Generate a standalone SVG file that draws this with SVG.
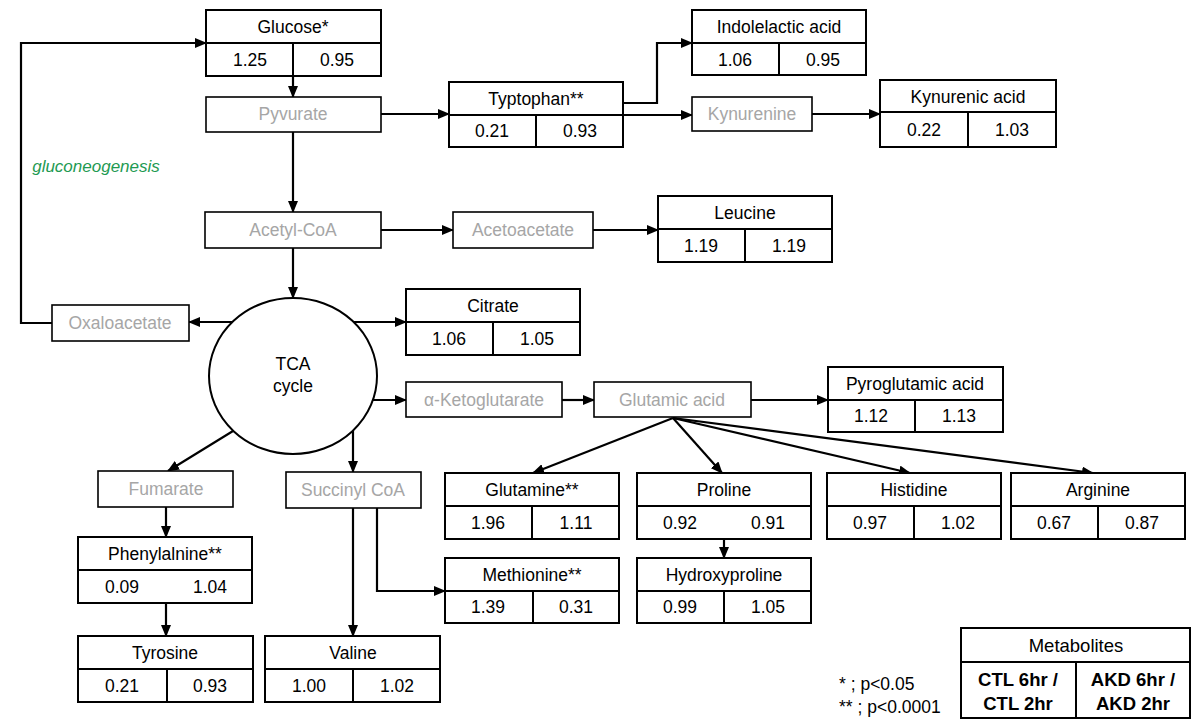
<svg xmlns="http://www.w3.org/2000/svg" width="1202" height="720" viewBox="0 0 1202 720">
<style>
text{font-family:"Liberation Sans",Arial,sans-serif;font-size:17.5px;fill:#000;text-anchor:middle}
.g text{fill:#a6a6a6}
.box{fill:#fff;stroke:#000;stroke-width:2}
.gbox{fill:#fff;stroke:#000;stroke-width:1.6}
.div{stroke:#000;stroke-width:2}
.c{fill:none;stroke:#000;stroke-width:2.2}
.note{text-anchor:start;font-size:17.5px}
.b{font-weight:bold;font-size:18.5px}
</style>
<defs>
<marker id="ah" markerUnits="userSpaceOnUse" markerWidth="12" markerHeight="10" refX="11" refY="5" orient="auto">
<path d="M0,0 L12,5 L0,10 z" fill="#000"/>
</marker>
</defs>
<rect width="1202" height="720" fill="#fff"/>

<g id="connectors" class="c" marker-end="url(#ah)">
<path d="M52,323 H21 V43 H206"/>
<path d="M293,43 V97"/>
<path d="M381,114 H449"/>
<path d="M623,103 H657 V43 H692"/>
<path d="M623,115 H692"/>
<path d="M812,114 H880"/>
<path d="M293,132 V212"/>
<path d="M381,230 H453"/>
<path d="M593,230 H658"/>
<path d="M293,248 V298"/>
<path d="M233,322 H189"/>
<path d="M354,322 H406"/>
<path d="M373,400 H406"/>
<path d="M562,400 H594"/>
<path d="M751,400 H828"/>
<path d="M673,418 L533,473"/>
<path d="M673,418 L722,473"/>
<path d="M673,418 L910,473"/>
<path d="M673,418 L1093,473"/>
<path d="M233,431 L168,471"/>
<path d="M353,431 V472"/>
<path d="M166,507 V537"/>
<path d="M166,570 V636"/>
<path d="M353,508 V636"/>
<path d="M377,508 V591 H445"/>
<path d="M724,506 V558"/>
</g>

<text x="96" y="172" style="font-style:italic;fill:#1e9a52;font-size:17px">gluconeogenesis</text>

<g id="glucose"><rect class="box" x="206" y="10" width="175" height="66"/><line class="div" x1="206" y1="43" x2="381" y2="43"/><line class="div" x1="293" y1="43" x2="293" y2="76"/><text x="293" y="33">Glucose*</text><text x="250" y="66">1.25</text><text x="337" y="66">0.95</text></g>

<g id="pyvurate" class="g"><rect class="gbox" x="206" y="97" width="175" height="35"/><text x="293" y="120">Pyvurate</text></g>

<g id="tryptophan"><rect class="box" x="449" y="82" width="174" height="65"/><line class="div" x1="449" y1="115" x2="623" y2="115"/><line class="div" x1="536" y1="115" x2="536" y2="147"/><text x="536" y="105">Typtophan**</text><text x="492" y="137">0.21</text><text x="580" y="137">0.93</text></g>

<g id="indolelactic"><rect class="box" x="692" y="10" width="174" height="65"/><line class="div" x1="692" y1="43" x2="866" y2="43"/><line class="div" x1="779" y1="43" x2="779" y2="75"/><text x="779" y="33">Indolelactic acid</text><text x="735" y="66">1.06</text><text x="823" y="66">0.95</text></g>

<g id="kynurenine" class="g"><rect class="gbox" x="692" y="97" width="120" height="34"/><text x="752" y="120">Kynurenine</text></g>

<g id="kynurenic"><rect class="box" x="880" y="80" width="176" height="67"/><line class="div" x1="880" y1="112" x2="1056" y2="112"/><line class="div" x1="968" y1="112" x2="968" y2="147"/><text x="968" y="103">Kynurenic acid</text><text x="924" y="136">0.22</text><text x="1012" y="136">1.03</text></g>

<g id="acetylcoa" class="g"><rect class="gbox" x="205" y="212" width="176" height="36"/><text x="293" y="236">Acetyl-CoA</text></g>

<g id="acetoacetate" class="g"><rect class="gbox" x="453" y="212" width="140" height="36"/><text x="523" y="236">Acetoacetate</text></g>

<g id="leucine"><rect class="box" x="658" y="196" width="174" height="66"/><line class="div" x1="658" y1="229" x2="832" y2="229"/><line class="div" x1="745" y1="229" x2="745" y2="262"/><text x="745" y="219">Leucine</text><text x="701" y="252">1.19</text><text x="789" y="252">1.19</text></g>

<g id="tca"><ellipse cx="293" cy="376" rx="84" ry="78" fill="#fff" stroke="#000" stroke-width="2"/><text x="293" y="370">TCA</text><text x="293" y="392">cycle</text></g>

<g id="oxaloacetate" class="g"><rect class="gbox" x="52" y="305" width="137" height="36"/><text x="120" y="329">Oxaloacetate</text></g>

<g id="citrate"><rect class="box" x="406" y="289" width="174" height="66"/><line class="div" x1="406" y1="322" x2="580" y2="322"/><line class="div" x1="493" y1="322" x2="493" y2="355"/><text x="493" y="312">Citrate</text><text x="449" y="345">1.06</text><text x="537" y="345">1.05</text></g>

<g id="aketoglutarate" class="g"><rect class="gbox" x="406" y="382" width="156" height="35"/><text x="484" y="406">α-Ketoglutarate</text></g>

<g id="glutamicacid" class="g"><rect class="gbox" x="594" y="382" width="157" height="35"/><text x="672" y="406">Glutamic acid</text></g>

<g id="pyroglutamic"><rect class="box" x="828" y="367" width="175" height="65"/><line class="div" x1="828" y1="400" x2="1003" y2="400"/><line class="div" x1="915" y1="400" x2="915" y2="432"/><text x="915" y="390">Pyroglutamic acid</text><text x="871" y="422">1.12</text><text x="959" y="422">1.13</text></g>

<g id="glutamine"><rect class="box" x="445" y="473" width="174" height="66"/><line class="div" x1="445" y1="506" x2="619" y2="506"/><line class="div" x1="532" y1="506" x2="532" y2="539"/><text x="532" y="496">Glutamine**</text><text x="488" y="529">1.96</text><text x="576" y="529">1.11</text></g>

<g id="proline"><rect class="box" x="637" y="473" width="174" height="66"/><line class="div" x1="637" y1="506" x2="811" y2="506"/><text x="724" y="496">Proline</text><text x="680" y="529">0.92</text><text x="768" y="529">0.91</text></g>

<g id="histidine"><rect class="box" x="827" y="473" width="174" height="66"/><line class="div" x1="827" y1="506" x2="1001" y2="506"/><line class="div" x1="914" y1="506" x2="914" y2="539"/><text x="914" y="496">Histidine</text><text x="870" y="529">0.97</text><text x="958" y="529">1.02</text></g>

<g id="arginine"><rect class="box" x="1011" y="473" width="174" height="66"/><line class="div" x1="1011" y1="506" x2="1185" y2="506"/><line class="div" x1="1098" y1="506" x2="1098" y2="539"/><text x="1098" y="496">Arginine</text><text x="1054" y="529">0.67</text><text x="1142" y="529">0.87</text></g>

<g id="hydroxyproline"><rect class="box" x="637" y="558" width="174" height="65"/><line class="div" x1="637" y1="591" x2="811" y2="591"/><line class="div" x1="724" y1="591" x2="724" y2="623"/><text x="724" y="581">Hydroxyproline</text><text x="680" y="613">0.99</text><text x="768" y="613">1.05</text></g>

<g id="methionine"><rect class="box" x="445" y="558" width="174" height="65"/><line class="div" x1="445" y1="591" x2="619" y2="591"/><line class="div" x1="533" y1="591" x2="533" y2="623"/><text x="532" y="581">Methionine**</text><text x="488" y="613">1.39</text><text x="576" y="613">0.31</text></g>

<g id="fumarate" class="g"><rect class="gbox" x="98" y="471" width="135" height="36"/><text x="166" y="495">Fumarate</text></g>

<g id="succinylcoa" class="g"><rect class="gbox" x="286" y="472" width="135" height="36"/><text x="353" y="496">Succinyl CoA</text></g>

<g id="phenylalnine"><rect class="box" x="78" y="537" width="174" height="66"/><line class="div" x1="78" y1="570" x2="252" y2="570"/><text x="165" y="560">Phenylalnine**</text><text x="122" y="593">0.09</text><text x="210" y="593">1.04</text></g>

<g id="tyrosine"><rect class="box" x="78" y="636" width="175" height="66"/><line class="div" x1="78" y1="669" x2="253" y2="669"/><line class="div" x1="167" y1="669" x2="167" y2="702"/><text x="165" y="659">Tyrosine</text><text x="122" y="692">0.21</text><text x="210" y="692">0.93</text></g>

<g id="valine"><rect class="box" x="265" y="636" width="175" height="66"/><line class="div" x1="265" y1="669" x2="440" y2="669"/><line class="div" x1="353" y1="669" x2="353" y2="702"/><text x="353" y="659">Valine</text><text x="309" y="692">1.00</text><text x="397" y="692">1.02</text></g>

<g id="legend"><rect class="box" x="961" y="628" width="229" height="90"/><line class="div" x1="961" y1="662" x2="1190" y2="662"/><line class="div" x1="1076" y1="662" x2="1076" y2="718"/><text x="1076" y="652" style="font-size:18.5px">Metabolites</text><text class="b" x="1018" y="686">CTL 6hr /</text><text class="b" x="1018" y="710">CTL 2hr</text><text class="b" x="1133" y="686">AKD 6hr /</text><text class="b" x="1133" y="710">AKD 2hr</text></g>

<g id="notes"><text class="note" x="839" y="690">* ; p&lt;0.05</text><text class="note" x="839" y="713">** ; p&lt;0.0001</text></g>
</svg>
